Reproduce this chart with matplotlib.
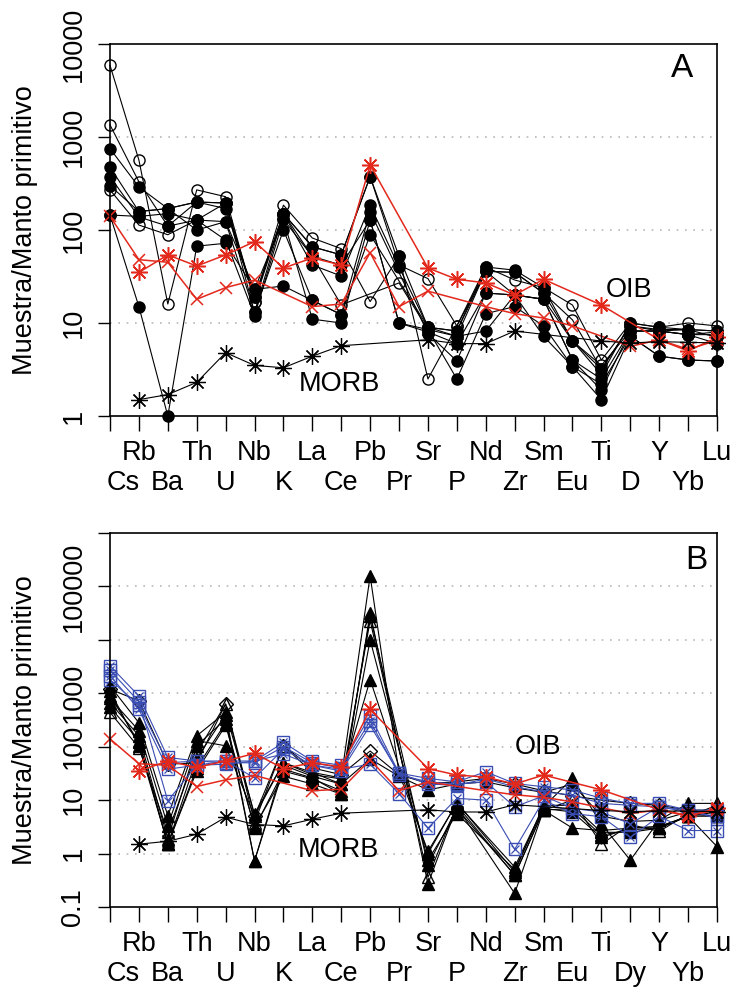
import numpy as np
import matplotlib
matplotlib.use("Agg")
import matplotlib.pyplot as plt
from matplotlib.transforms import blended_transform_factory

plt.rcParams['font.family'] = ['Liberation Sans', 'DejaVu Sans']

nan = np.nan
elements = ["Cs", "Rb", "Ba", "Th", "U", "Nb", "K", "La", "Ce", "Pb", "Pr",
            "Sr", "P", "Nd", "Zr", "Sm", "Eu", "Ti", "Dy", "Y", "Yb", "Lu"]
labels_a = [e if e != "Dy" else "D" for e in elements]
labels_b = elements

# reference patterns (same in both panels)
oib_star = [nan, 35, 54, 41, 54, 75, 39, 50, 42, 500, nan, 39, 29.5, 27, 20, 29.5, nan, 15.6, nan, 6.6, 5.0, 7.0]
oib_cross = [140, 48, 45, 18, 24, 29, nan, 15, 16, 57, 15, 22, nan, 15, 12.6, 11.3, 9.3, nan, 5.6, 6.6, 5.2, 6.5]
morb = [nan, 1.5, 1.7, 2.3, 4.8, 3.5, 3.3, 4.4, 5.7, nan, nan, 6.6, 6.0, 6.0, 8.2, nan, nan, 6.4, 6.1, 6.3, 6.2, 6.1]

# panel A samples
a_open = [
    [5900, 565, 16, 270, 228, 17, 185, 82, 63, 17, 52, 2.5, 9.3, 40, 29, 24, 15.6, 4.0, 10, 9.0, 10, 9.3],
    [1350, 330, 110, 200, 195, 17, 150, 66, 54, 375, 42, 30, 9.3, 36, 35, 21, 10.8, 3.2, 9.3, 8.2, 8.5, 8.2],
    [270, 113, 89, 128, 123, 23, 130, 52, 15.7, nan, 27, 8.5, 7.2, 36, 20, 18, 6.4, 3.5, 8.2, 8.2, 7.5, 8.0],
]
a_filled = [
    [750, 290, 170, 200, 195, 19, 150, 42, 32, 185, 40, 9.0, 8.2, 40, 37, 24, 6.4, 3.2, 9.3, 8.5, 8.5, 8.2],
    [475, 158, 170, 100, 123, 13, 100, 17.5, 12.3, 158, nan, 7.7, 3.9, 21, 20, 18, 4.0, 1.9, 8.2, 8.2, 7.5, 6.0],
    [375, 138, 110, 128, 78, 12, 130, 11, 10, 128, 10, 8.5, 2.5, 12.6, 15, 9.3, 3.4, 1.5, 7.2, 4.4, 4.0, 3.9],
    [145, 15, 1.0, 67, 72, 23, 25, 17.5, 12.3, 89, nan, 9.0, 7.2, 8.2, 20, 7.2, 3.4, 2.2, 7.2, 4.4, 4.0, 3.9],
    [300, 158, 170, 200, 170, 19, 150, 66, 54, 375, 52, 9.0, 8.2, 36, 35, 21, 6.4, 2.8, 10, 9.0, 8.5, 7.0],
    [145, 140, 150, 128, 195, 13, 150, 52, 42, 128, 10, 8.0, 6.0, 21, 20, 18, 4.0, 2.5, 8.2, 8.2, 7.5, 7.5],
]

# panel B samples
b_blue = [
    [3260, 890, 63, 54, 54, 54, 120, 54, 45, 380, 32, 25.5, 22, 34, 20.5, 17.8, 15.5, 10.8, 8.7, 8.7, 6.5, 6.5],
    [2140, 500, 38, 45, 47, 54, 73, 45, 35, 250, 32, 20, 19, 25, 17.8, 14.3, 12.4, 8.7, 8.0, 7.5, 6.5, 4.5],
    [2700, 700, 9.7, 45, 54, 26, 90, 45, 38, 47, 13.3, 3.0, 10.8, 10, 1.2, 10, 5.6, 4.9, 2.0, 5.0, 2.7, 2.7],
    [1800, 600, 50, 54, 50, 50, 100, 50, 40, 300, 30, 22, 20, 22, 7.5, 12, 7.0, 6.0, 3.6, 7.5, 6.0, 5.0],
]
b_tri_filled = [
    [1380, 280, 5.1, 160, 440, 5.5, 50, 33, 26, 158000, 32, 1.1, 8.7, nan, 0.56, 7.5, 25.5, 3.6, 0.75, 4.2, 8.7, 8.7],
    [670, 160, 1.9, 104, 330, 0.73, 38, 26, 13, 32000, nan, 0.27, 7.5, nan, 0.18, 6.5, 3.0, 2.7, 3.0, 3.2, 5.0, 1.35],
    [1100, 104, 1.5, 35, 250, 3.2, 28, 20, 13, 10000, nan, 0.75, 5.6, nan, 0.5, 7.0, 6.0, 2.0, 3.0, 3.2, 5.0, 5.0],
    [800, 200, 3.3, 130, 104, 5.0, 50, 30, 25, 1800, nan, 1.0, 9.0, nan, 0.45, 8.0, 8.0, 2.5, 2.5, 3.0, 5.0, 8.0],
    [550, 130, 1.5, 60, 400, 0.73, 45, 28, 20, 59, 28, 15.5, 20, 22, 17, 14, 20, 5.0, 4.0, 4.2, 6.0, 6.0],
    [900, 120, 1.5, 40, 280, 3.0, 35, 25, 15, 28000, nan, 0.6, 7.0, nan, 0.4, 6.5, 7.0, 2.2, 2.8, 3.0, 5.0, 6.0],
]
b_tri_open = [
    [440, 96, 2.5, 77, 630, 3.8, 104, 33, 20, 23000, nan, 0.36, 8.0, nan, 0.39, 6.5, 10, 1.5, 3.5, 2.6, 5.5, 5.0],
]
b_diamond = [
    [1200, 720, 47, 50, 630, 5.0, 104, 40, 30, 83, 30, 20.5, 22, 25.5, 20, 15, 12, 10, 8.7, 8.0, 6.5, 6.5],
]

RED = "#e3281c"
BLUE = "#3a4db3"
FS = 19.5
x = np.arange(len(elements))
asterisk = (8, 2, 0)


def draw(ax, vals, color, lw=0.8, **mk):
    v = np.array(vals, dtype=float)
    ok = ~np.isnan(v)
    ax.plot(x[ok], v[ok], color=color, lw=lw, clip_on=False, **mk)


def draw_refs(ax):
    draw(ax, oib_star, RED, lw=1.1, marker=asterisk, ms=12, mew=1.1, mec=RED)
    draw(ax, oib_cross, RED, lw=1.1, marker="x", ms=9, mew=1.1, mec=RED)
    draw(ax, morb, "black", lw=0.8, marker=asterisk, ms=12, mew=0.9)


def style(ax, ylo, yhi, ticks, ticklabels, xlabels, letter, letter_xy, oib_xy, morb_xy):
    ax.set_yscale("log")
    ax.set_xlim(0, len(elements) - 1)
    ax.set_ylim(ylo, yhi)
    ax.set_yticks(ticks)
    ax.set_yticklabels(ticklabels, rotation=90, va="center")
    ax.minorticks_off()
    ax.tick_params(axis="y", length=9, width=1, labelsize=FS, pad=8)
    ax.set_xticks(x)
    ax.set_xticklabels([])
    ax.tick_params(axis="x", length=11, width=1)
    for s in ax.spines.values():
        s.set_linewidth(1.2)
    for t in ticks[1:-1]:
        ax.axhline(t, color="#b8b8b8", lw=1.2, ls=(0, (1, 4)), zorder=0)
    tr = blended_transform_factory(ax.transData, ax.transAxes)
    for i, lab in enumerate(xlabels):
        xi = i + (0.45 if i == 0 else 0)
        dy = -37 if i % 2 == 1 else -67
        ax.annotate(lab, (xi, 0), xycoords=tr, xytext=(0, dy * 0.72),
                    textcoords="offset points", ha="center", va="center",
                    fontsize=FS)
    ax.text(*letter_xy, letter, fontsize=24, ha="center", va="center")
    ax.text(*oib_xy, "OIB", fontsize=FS, ha="center", va="center")
    ax.text(*morb_xy, "MORB", fontsize=FS, ha="center", va="center")


fig = plt.figure(figsize=(7.36, 9.96), dpi=100)
axA = fig.add_axes([110 / 736, 1 - 416 / 996, 607 / 736, 372 / 996])
axB = fig.add_axes([110 / 736, 1 - 907 / 996, 607 / 736, 374 / 996])

# panel A
for s in a_open:
    draw(axA, s, "black", marker="o", ms=8, mfc="none", mec="black", mew=1)
for s in a_filled:
    draw(axA, s, "black", marker="o", ms=8, mfc="black", mec="black")
draw_refs(axA)
style(axA, 1, 10000, [1, 10, 100, 1000, 10000], ["1", "10", "100", "1000", "10000"],
      labels_a, "A", (19.8, 5500), (17.95, 22.5), (7.95, 2.2))

# panel B
for s in b_tri_filled:
    draw(axB, s, "black", marker="^", ms=9, mfc="black", mec="black")
for s in b_tri_open:
    draw(axB, s, "black", marker="^", ms=9, mfc="none", mec="black", mew=1)
for s in b_diamond:
    draw(axB, s, "black", marker="D", ms=7, mfc="none", mec="black", mew=1)
for s in b_blue:
    draw(axB, s, BLUE, marker="s", ms=8, mfc="none", mec=BLUE, mew=1)
    draw(axB, s, "none", marker="x", ms=6, mec=BLUE, mew=0.9)
draw_refs(axB)
style(axB, 0.1, 1e6, [0.1, 1, 10, 100, 1000, 1e4, 1e5, 1e6],
      ["0.1", "1", "10", "100", "1000", "", "100000", ""],
      labels_b, "B", (20.3, 3.0e5), (14.8, 100), (7.9, 1.15))

for ax in (axA, axB):
    pos = ax.get_position()
    fig.text(25 / 736, (pos.y0 + pos.y1) / 2, "Muestra/Manto primitivo",
             rotation=90, ha="center", va="center", fontsize=FS)

fig.savefig("out.png", dpi=100)
